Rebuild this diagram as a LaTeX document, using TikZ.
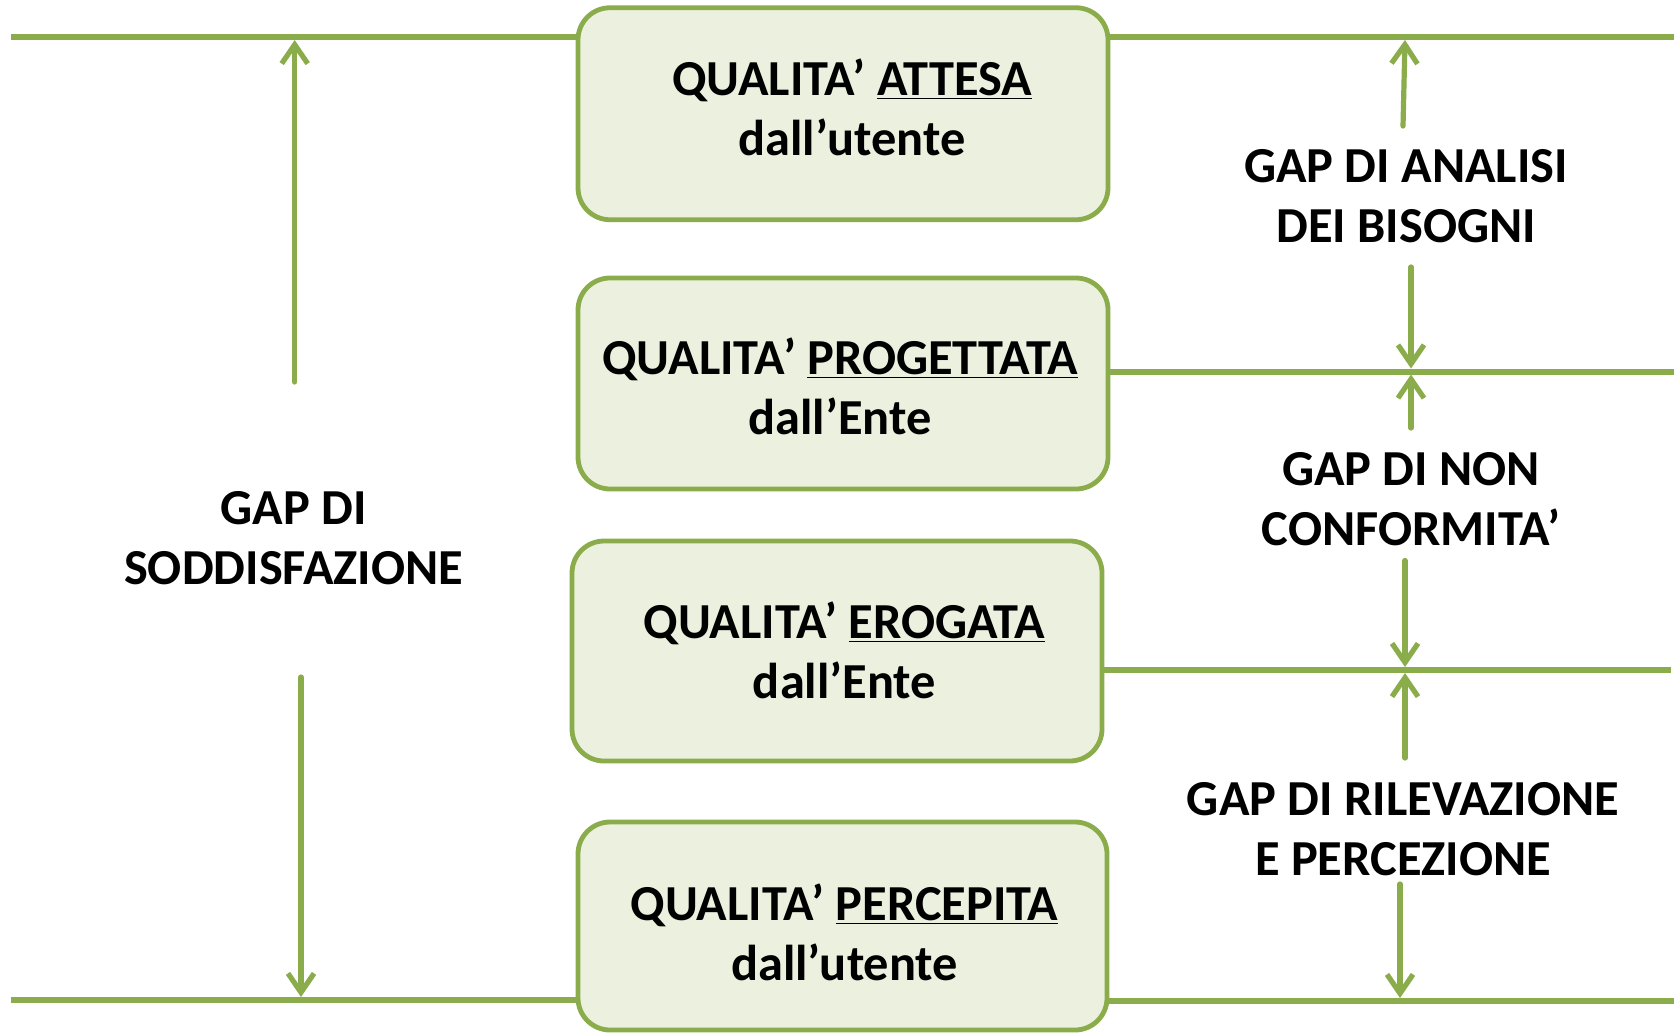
\documentclass[tikz,border=0pt]{standalone}
\usepackage{fontspec}
\setmainfont{Carlito}
\usetikzlibrary{arrows.meta}
\definecolor{olive}{HTML}{8AAC4A}
\definecolor{boxfill}{HTML}{EBF1DE}
\tikzset{
  qbox/.style={draw=olive, fill=boxfill, line width=2.4pt, rounded corners=16pt, outer sep=0pt, inner sep=0pt},
  txt/.style={align=center, font=\fontsize{25.2}{30}\selectfont\bfseries, text=black, inner sep=0pt},
  hline/.style={draw=olive, line width=3pt},
  garrow/.style={draw=olive, line width=2.6pt, -{Straight Barb[length=9.5pt,width=13pt,line width=2.6pt]}, line cap=round}
}
\begin{document}
\begin{tikzpicture}[x=0.5pt,y=-0.5pt]
\useasboundingbox (0,0) rectangle (1674,1033);
\fill[white] (0,0) rectangle (1674,1033);
% boxes
\node[qbox, minimum width=265pt, minimum height=106pt] (box1) at (843,113.75) {};
\node[qbox, minimum width=265pt, minimum height=105.5pt] (box2) at (843,383.5) {};
\node[qbox, minimum width=265pt, minimum height=110pt] (box3) at (837,651) {};
\node[qbox, minimum width=264.5pt, minimum height=104pt] (box4) at (842.5,926) {};
% box texts
\node[txt] (t1) at (852,107.5) {QUALITA’ \underline{ATTESA}\\dall’utente};
\node[txt] (t2) at (840,386.5) {QUALITA’ \underline{PROGETTATA}\\dall’Ente};
\node[txt] (t3) at (844.5,650) {QUALITA’ \underline{EROGATA}\\dall’Ente};
\node[txt] (t4) at (844.5,932) {QUALITA’ \underline{PERCEPITA}\\dall’utente};
% gap texts
\node[txt] (gs) at (293.6,538.5) {GAP DI\\SODDISFAZIONE};
\node[txt] (ga) at (1406,196) {GAP DI ANALISI\\DEI BISOGNI};
\node[txt] (gn) at (1411,499.5) {GAP DI NON\\CONFORMITA’};
\node[txt] (gr) at (1403,829) {GAP DI RILEVAZIONE\\E PERCEZIONE};
% line coordinates
\coordinate (l1a) at (11,37);
\coordinate (l1b) at (1674,37);
\coordinate (l2b) at (1674,371.5);
\coordinate (l3b) at (1671,670);
\coordinate (l4a) at (11,1000);
\coordinate (l4b) at (1674,1001);
\draw[hline] (l1a) -- (box1.west |- l1a);
\draw[hline] (box1.east |- l1b) -- (l1b);
\draw[hline] (box2.east |- l2b) -- (l2b);
\draw[hline] (box3.east |- l3b) -- (l3b);
\draw[hline] (l4a) -- (box4.west |- l4a);
\draw[hline] (box4.east |- l4b) -- (l4b);
% left arrows
\coordinate (s1) at (294.7,382);
\coordinate (e1) at (294.7,40);
\coordinate (s2) at (301,677);
\coordinate (e2) at (301,997);
\draw[garrow] (s1) -- (e1);
\draw[garrow] (s2) -- (e2);
% right arrows
\coordinate (a1s) at (1403,126);
\coordinate (a1e) at (1405,40);
\coordinate (a2s) at (1411,267);
\coordinate (a2e) at (1411,368.5);
\coordinate (a3s) at (1411,428);
\coordinate (a3e) at (1411,374.5);
\coordinate (a4s) at (1405,560.5);
\coordinate (a4e) at (1405,667);
\coordinate (a5s) at (1405,758);
\coordinate (a5e) at (1405,673);
\coordinate (a6s) at (1400,884);
\coordinate (a6e) at (1400,998);
\draw[garrow] (a1s) -- (a1e);
\draw[garrow] (a2s) -- (a2e);
\draw[garrow] (a3s) -- (a3e);
\draw[garrow] (a4s) -- (a4e);
\draw[garrow] (a5s) -- (a5e);
\draw[garrow] (a6s) -- (a6e);
\end{tikzpicture}
\end{document}
